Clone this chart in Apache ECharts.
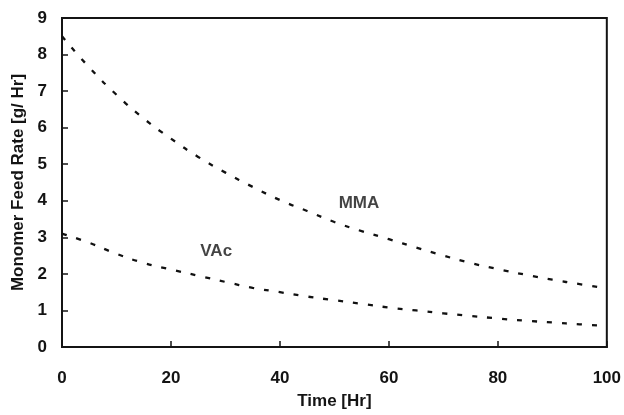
<!DOCTYPE html>
<html>
<head>
<meta charset="utf-8">
<script src="https://cdn.jsdelivr.net/npm/echarts@6/dist/echarts.min.js"></script>
<style>
  html, body { margin: 0; padding: 0; background: #fff; }
  #chart { width: 624px; height: 415px; }
</style>
</head>
<body>
<div id="chart"></div>
<script>
// Time points (hours)
const timeHr = [0, 5, 10, 15, 20, 25, 30, 35, 40, 45, 50, 55, 60, 65, 70, 75, 80, 85, 90, 95, 100];
// Monomer feed rates (g/Hr)
const mmaRate = [8.5, 7.65, 6.9, 6.25, 5.7, 5.2, 4.77, 4.38, 4.02, 3.72, 3.42, 3.17, 2.95, 2.72, 2.5, 2.3, 2.13, 1.98, 1.84, 1.72, 1.6];
const vacRate = [3.1, 2.85, 2.55, 2.3, 2.12, 1.95, 1.78, 1.62, 1.5, 1.38, 1.28, 1.18, 1.08, 1.0, 0.92, 0.85, 0.78, 0.72, 0.67, 0.62, 0.58];
// Curve labels and where they sit (data coordinates)
const curveLabels = [
  { name: 'MMA', at: [54.5, 3.92] },
  { name: 'VAc', at: [28.3, 2.61] }
];

const font = 'Liberation Sans, Arial, sans-serif';
const ink = '#141414';

const pairs = (xs, ys) => xs.map((x, i) => [x, ys[i]]);
const dashed = { color: '#111', width: 2.3, type: [5, 10] };

const chart = echarts.init(document.getElementById('chart'), null, { renderer: 'canvas' });
chart.setOption({
  animation: false,
  backgroundColor: '#fff',
  grid: {
    left: 62, right: 17, top: 18, bottom: 63,
    show: true, borderColor: ink, borderWidth: 2, backgroundColor: 'transparent'
  },
  xAxis: {
    type: 'value', min: 0, max: 100, interval: 20,
    name: 'Time [Hr]', nameLocation: 'middle', nameGap: 46,
    nameTextStyle: { fontFamily: font, fontWeight: 'bold', fontSize: 17, color: ink },
    axisLine: { show: true, lineStyle: { color: ink, width: 2 } },
    axisTick: { show: true, inside: true, length: 6, lineStyle: { color: ink, width: 1.5 } },
    axisLabel: { margin: 23, fontFamily: font, fontWeight: 'bold', fontSize: 17, color: ink },
    splitLine: { show: false }
  },
  yAxis: {
    type: 'value', min: 0, max: 9, interval: 1,
    name: 'Monomer Feed Rate [g/ Hr]', nameLocation: 'middle', nameGap: 33,
    nameTextStyle: { fontFamily: font, fontWeight: 'bold', fontSize: 17, color: ink },
    axisLine: { show: true, lineStyle: { color: ink, width: 2 } },
    axisTick: { show: true, inside: true, length: 6, lineStyle: { color: ink, width: 1.5 } },
    axisLabel: { margin: 15, fontFamily: font, fontWeight: 'bold', fontSize: 17, color: ink },
    splitLine: { show: false }
  },
  series: [
    {
      name: 'MMA', type: 'line', smooth: true, symbol: 'none',
      data: pairs(timeHr, mmaRate), lineStyle: dashed
    },
    {
      name: 'VAc', type: 'line', smooth: true, symbol: 'none',
      data: pairs(timeHr, vacRate), lineStyle: dashed
    },
    {
      type: 'scatter', symbolSize: 0, silent: true,
      itemStyle: { color: ink },
      data: curveLabels.map(l => ({ value: l.at, name: l.name })),
      label: {
        show: true, position: 'inside', formatter: p => p.name,
        fontFamily: font, fontWeight: 'bold', fontSize: 17, color: ink,
        textBorderWidth: 0
      }
    }
  ]
});
</script>
</body>
</html>
